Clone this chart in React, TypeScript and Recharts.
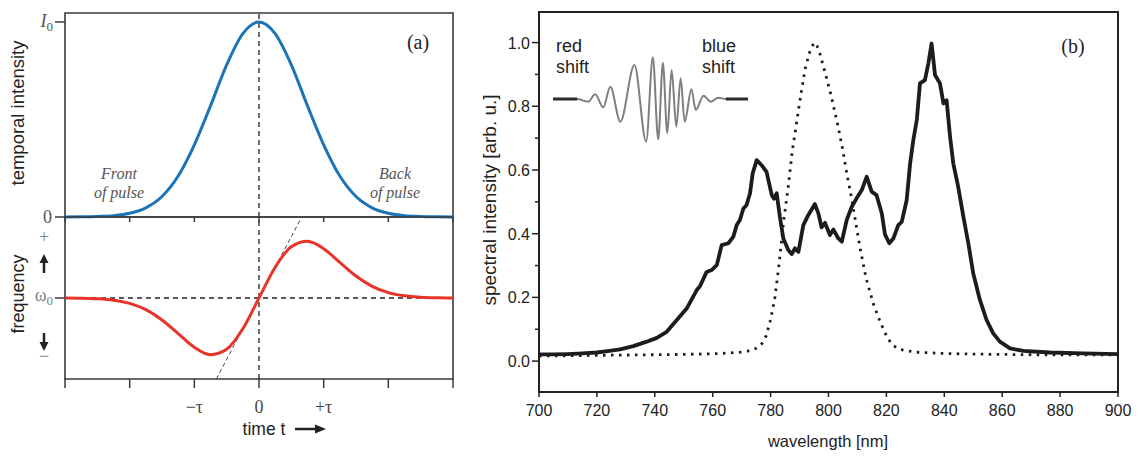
import React from "react";
import {
  LineChart,
  Line,
  XAxis,
  YAxis,
  ReferenceLine,
  ReferenceArea,
} from "recharts";

const SANS = '"Liberation Sans", Arial, Helvetica, sans-serif';
const SERIF = '"Liberation Serif", "Times New Roman", Times, serif';

// panel (a): time in units of tau
const timeSteps = [
  -3, -2.75, -2.5, -2.25, -2, -1.75, -1.5, -1.25, -1, -0.75, -0.5, -0.25, 0,
  0.25, 0.5, 0.75, 1, 1.25, 1.5, 1.75, 2, 2.25, 2.5, 2.75, 3,
];
const intensity = [
  0, 0.001, 0.003, 0.007, 0.019, 0.047, 0.105, 0.21, 0.37, 0.57, 0.78, 0.94, 1,
  0.94, 0.78, 0.57, 0.37, 0.21, 0.105, 0.047, 0.019, 0.007, 0.003, 0.001, 0,
];
const freqShift = [
  0, -0.003, -0.013, -0.038, -0.095, -0.205, -0.385, -0.625, -0.865, -0.995,
  -0.9, -0.54, 0, 0.54, 0.9, 0.995, 0.865, 0.625, 0.385, 0.205, 0.095, 0.038,
  0.013, 0.003, 0,
];
const timeTicks = [-3, -2, -1, 0, 1, 2, 3];
const timeTickLabels: Record<string, string> = { "-1": "−τ", "0": "0", "1": "+τ" };
const tangentSegment = [
  { x: -0.66, y: -1.42 },
  { x: 0.66, y: 1.42 },
];

// panel (b): spectra, [wavelength nm, intensity]
const broadenedSpectrum: [number, number][] = [
  [700, 0.021], [705, 0.021], [710, 0.022], [715, 0.024], [720, 0.027],
  [725, 0.033], [728, 0.037], [732.6, 0.047], [737.2, 0.061], [740.7, 0.073],
  [744.1, 0.092], [747.6, 0.129], [751, 0.165], [754.5, 0.223], [755.6, 0.235],
  [757.9, 0.28], [759.7, 0.286], [761.4, 0.301], [763.1, 0.364], [765.4, 0.37],
  [767.1, 0.39], [768.3, 0.427], [769.4, 0.443], [770.6, 0.479], [771.7, 0.49],
  [772.9, 0.527], [773.8, 0.589], [775.2, 0.631], [776.9, 0.615], [778.6, 0.594],
  [780.4, 0.521], [781.2, 0.51], [782.1, 0.527], [783.2, 0.453], [784.4, 0.385],
  [786.1, 0.349], [787.3, 0.336], [788.4, 0.354], [789.6, 0.343], [791.3, 0.427],
  [793, 0.458], [795.3, 0.493], [796.5, 0.464], [797.6, 0.42], [798.8, 0.434],
  [800.5, 0.396], [801.7, 0.413], [803.4, 0.385], [804.6, 0.375], [806.3, 0.443],
  [808, 0.484], [809.7, 0.511], [811.5, 0.537], [813.2, 0.579], [814.9, 0.532],
  [816.6, 0.521], [818.4, 0.464], [819.5, 0.398], [821, 0.37], [822.4, 0.385],
  [824.1, 0.427], [825.3, 0.437], [827, 0.505], [828.2, 0.621], [829.3, 0.694],
  [830.5, 0.757], [831.6, 0.872], [833.3, 0.882], [834.5, 0.935], [835.6, 0.997],
  [836.8, 0.898], [838.5, 0.872], [839.7, 0.809], [840.8, 0.819], [842, 0.704],
  [843.1, 0.621], [844.8, 0.547], [846.6, 0.453], [848.3, 0.37], [850, 0.275],
  [852.3, 0.192], [854.6, 0.129], [856.9, 0.087], [859.2, 0.061], [862.7, 0.04],
  [867.3, 0.032], [876.5, 0.027], [888, 0.024], [900, 0.022],
];
const inputSpectrum: [number, number][] = [
  [700, 0.016], [710, 0.017], [720, 0.018], [730, 0.019], [740, 0.02],
  [750, 0.021], [760, 0.023], [765, 0.025], [770, 0.028], [773, 0.033],
  [775, 0.04], [777, 0.055], [778.5, 0.08], [780, 0.13], [781.5, 0.2],
  [783, 0.31], [784.5, 0.44], [786, 0.54], [787.5, 0.66], [789, 0.75],
  [790.5, 0.84], [792, 0.92], [793.5, 0.97], [795, 1.0], [796, 0.99],
  [797, 0.966], [799, 0.9], [801, 0.83], [803, 0.75], [805, 0.66],
  [806.5, 0.58], [808, 0.51], [809.5, 0.43], [811, 0.35], [813, 0.26],
  [815.5, 0.18], [818, 0.12], [820.5, 0.07], [822.5, 0.048], [825, 0.036],
  [830, 0.028], [840, 0.024], [850, 0.022], [860, 0.021], [870, 0.02],
  [880, 0.02], [890, 0.02], [900, 0.02],
];
const wavelengthTicks = [
  700, 710, 720, 730, 740, 750, 760, 770, 780, 790, 800, 810, 820, 830, 840,
  850, 860, 870, 880, 890, 900,
];
const spectralTicks = [0, 0.1, 0.2, 0.3, 0.4, 0.5, 0.6, 0.7, 0.8, 0.9, 1.0];

// inset: chirped pulse field (extrema)
const pulseX = [
  0, 24, 35, 42, 50, 57, 67, 81, 92.7, 99.3, 104.7, 109.3, 113.7, 118, 122.7,
  127, 131, 137.7, 142, 149.7, 157, 164.3, 172, 194,
];
const pulseField = [
  0, 0, -2.7, 4.7, -8.3, 12.3, -22.7, 34, -42.7, 41.7, -40.3, 36.3, -34.3, 29,
  -27.7, 20.7, -22.7, 9.7, -11, 3.3, -2.7, 1.3, 0, 0,
];
const pulseEdge = [
  0, 0, null, null, null, null, null, null, null, null, null, null, null, null,
  null, null, null, null, null, null, null, null, 0, 0,
];

const TopTimeTick = ({ x, y }: any) => (
  <line x1={x} x2={x} y1={y} y2={y + 5} stroke="#3a3a3a" strokeWidth={1.5} />
);

const BottomTimeTick = ({ x, y, payload }: any) => {
  const label = timeTickLabels[String(payload.value)];
  return (
    <g>
      <line x1={x} x2={x} y1={y} y2={y + 9} stroke="#3a3a3a" strokeWidth={1.5} />
      {label && (
        <text
          x={x}
          y={y + 34}
          textAnchor="middle"
          fontSize={18}
          fontFamily={SERIF}
          fill="#444"
        >
          {label}
        </text>
      )}
    </g>
  );
};

const IntensityTick = ({ x, y, payload }: any) => (
  <g>
    <line x1={x - 10} x2={x} y1={y} y2={y} stroke="#3a3a3a" strokeWidth={1.5} />
    {payload.value === 0 ? (
      <text x={x - 13} y={y + 6} textAnchor="end" fontSize={18} fontFamily={SERIF} fill="#555">
        0
      </text>
    ) : (
      <text x={x - 12} y={y + 5} textAnchor="end" fontSize={18} fontFamily={SERIF} fill="#555">
        <tspan fontStyle="italic">I</tspan>
        <tspan fontSize={13} dy={4}>0</tspan>
      </text>
    )}
  </g>
);

const FrequencyTick = ({ x, y }: any) => (
  <g>
    <line x1={x - 10} x2={x} y1={y} y2={y} stroke="#3a3a3a" strokeWidth={1.5} />
    <text x={x - 12} y={y + 3} textAnchor="end" fontSize={18} fontFamily={SERIF} fill="#7a8592">
      <tspan>ω</tspan>
      <tspan fontSize={13} dy={4}>0</tspan>
    </text>
  </g>
);

const WavelengthTick = ({ x, y, payload }: any) => {
  const v = payload.value;
  return (
    <g>
      <line x1={x} x2={x} y1={y} y2={y + 5} stroke="#222" strokeWidth={1.5} />
      {v % 20 === 0 && (
        <text x={x} y={y + 24} textAnchor="middle" fontSize={16} fontFamily={SANS} fill="#222">
          {v}
        </text>
      )}
    </g>
  );
};

const SpectralTick = ({ x, y, payload }: any) => {
  const v = payload.value;
  const major = Math.round(v * 10) % 2 === 0;
  return (
    <g>
      <line x1={x - (major ? 7 : 4)} x2={x} y1={y} y2={y} stroke="#222" strokeWidth={1.5} />
      {major && (
        <text x={x - 9} y={y + 6} textAnchor="end" fontSize={16} fontFamily={SANS} fill="#222">
          {v.toFixed(1)}
        </text>
      )}
    </g>
  );
};

const abs = (left: number, top: number, extra: React.CSSProperties = {}): React.CSSProperties => ({
  position: "absolute",
  left,
  top,
  whiteSpace: "nowrap",
  lineHeight: 1,
  ...extra,
});

const centered = "translate(-50%, -50%)";

export default function App() {
  const pulseData = timeSteps.map((t, i) => ({
    t,
    intensity: intensity[i],
    shift: freqShift[i],
  }));
  const broadData = broadenedSpectrum.map(([nm, v]) => ({ nm, v }));
  const inputData = inputSpectrum.map(([nm, v]) => ({ nm, v }));
  const insetData = pulseX.map((x, i) => ({
    x,
    field: pulseField[i],
    edge: pulseEdge[i],
  }));

  return (
    <div
      style={{
        position: "absolute",
        left: 0,
        top: 0,
        width: 1144,
        height: 457,
        background: "#fff",
        overflow: "hidden",
      }}
    >
      {/* (a) top: temporal intensity */}
      <div style={{ position: "absolute", left: 0, top: 0 }}>
        <LineChart
          width={470}
          height={230}
          data={pulseData}
          margin={{ top: 13, right: 17, bottom: 0, left: 0 }}
        >
          <XAxis
            dataKey="t"
            type="number"
            domain={[-3, 3]}
            ticks={timeTicks}
            height={13}
            axisLine={false}
            tickLine={false}
            tickSize={0}
            tickMargin={0}
            tick={(p: any) => <TopTimeTick {...p} />}
          />
          <YAxis
            type="number"
            domain={[0, 1.046]}
            ticks={[0, 1]}
            width={65}
            axisLine={false}
            tickLine={false}
            tickSize={0}
            tickMargin={0}
            tick={(p: any) => <IntensityTick {...p} />}
          />
          <ReferenceArea
            x1={-3}
            x2={3}
            y1={0}
            y2={1.046}
            fill="none"
            stroke="#3a3a3a"
            strokeWidth={1.6}
            ifOverflow="visible"
          />
          <ReferenceLine x={0} stroke="#222" strokeDasharray="5 4" strokeWidth={1.3} />
          <Line
            dataKey="intensity"
            type="monotone"
            stroke="#1b74b6"
            strokeWidth={3}
            dot={false}
            isAnimationActive={false}
          />
        </LineChart>
      </div>

      {/* (a) bottom: instantaneous frequency */}
      <div style={{ position: "absolute", left: 0, top: 205 }}>
        <LineChart
          width={470}
          height={252}
          data={pulseData}
          margin={{ top: 12, right: 17, bottom: 0, left: 0 }}
        >
          <XAxis
            dataKey="t"
            type="number"
            domain={[-3, 3]}
            ticks={timeTicks}
            height={78}
            axisLine={false}
            tickLine={false}
            tickSize={0}
            tickMargin={0}
            tick={(p: any) => <BottomTimeTick {...p} />}
          />
          <YAxis
            type="number"
            domain={[-1.42, 1.42]}
            ticks={[0]}
            width={65}
            axisLine={false}
            tickLine={false}
            tickSize={0}
            tickMargin={0}
            tick={(p: any) => <FrequencyTick {...p} />}
          />
          <ReferenceArea
            x1={-3}
            x2={3}
            y1={-1.42}
            y2={1.42}
            fill="none"
            stroke="#3a3a3a"
            strokeWidth={1.6}
            ifOverflow="visible"
          />
          <ReferenceLine x={0} stroke="#222" strokeDasharray="5 4" strokeWidth={1.3} />
          <ReferenceLine y={0} stroke="#222" strokeDasharray="5 4" strokeWidth={1.3} />
          <ReferenceLine
            segment={tangentSegment}
            stroke="#444"
            strokeDasharray="4 3"
            strokeWidth={1}
            ifOverflow="hidden"
          />
          <Line
            dataKey="shift"
            type="monotone"
            stroke="#e8332a"
            strokeWidth={3}
            dot={false}
            isAnimationActive={false}
          />
        </LineChart>
      </div>

      {/* (b) spectra */}
      <div style={{ position: "absolute", left: 470, top: 0 }}>
        <LineChart
          width={674}
          height={457}
          margin={{ top: 12, right: 26, bottom: 0, left: 0 }}
        >
          <XAxis
            dataKey="nm"
            type="number"
            domain={[700, 900]}
            ticks={wavelengthTicks}
            height={65}
            axisLine={false}
            tickLine={false}
            tickSize={0}
            tickMargin={0}
            tick={(p: any) => <WavelengthTick {...p} />}
          />
          <YAxis
            type="number"
            domain={[-0.097, 1.096]}
            ticks={spectralTicks}
            width={69}
            axisLine={false}
            tickLine={false}
            tickSize={0}
            tickMargin={0}
            tick={(p: any) => <SpectralTick {...p} />}
          />
          <ReferenceArea
            x1={700}
            x2={900}
            y1={-0.097}
            y2={1.096}
            fill="none"
            stroke="#222"
            strokeWidth={2}
            ifOverflow="visible"
          />
          <Line
            data={inputData}
            dataKey="v"
            type="linear"
            stroke="#1c1c1c"
            strokeWidth={2.8}
            strokeDasharray="2.5 5.5"
            dot={false}
            isAnimationActive={false}
          />
          <Line
            data={broadData}
            dataKey="v"
            type="linear"
            stroke="#1c1c1c"
            strokeWidth={3.8}
            strokeLinejoin="round"
            dot={false}
            isAnimationActive={false}
          />
        </LineChart>
      </div>

      {/* inset pulse */}
      <div style={{ position: "absolute", left: 553, top: 49 }}>
        <LineChart
          width={195}
          height={100}
          data={insetData}
          margin={{ top: 0, right: 0, bottom: 0, left: 0 }}
        >
          <XAxis dataKey="x" type="number" domain={[0, 194]} hide />
          <YAxis type="number" domain={[-50, 50]} hide />
          <Line
            dataKey="field"
            type="monotone"
            stroke="#7f7f7f"
            strokeWidth={2}
            dot={false}
            isAnimationActive={false}
          />
          <Line
            dataKey="edge"
            type="linear"
            stroke="#2a2a2a"
            strokeWidth={3}
            dot={false}
            isAnimationActive={false}
          />
        </LineChart>
      </div>

      {/* text and annotations */}
      <div style={abs(18, 113, { transform: `${centered} rotate(-90deg)`, font: `18.5px ${SANS}`, color: "#222" })}>
        temporal intensity
      </div>
      <div style={abs(18, 294, { transform: `${centered} rotate(-90deg)`, font: `18px ${SANS}`, color: "#222" })}>
        frequency
      </div>
      <div style={abs(418, 42, { transform: centered, font: `20px ${SERIF}`, color: "#222" })}>(a)</div>
      <div style={abs(119, 174, { transform: centered, font: `italic 16px ${SERIF}`, color: "#555" })}>Front</div>
      <div style={abs(119, 193, { transform: centered, font: `italic 16px ${SERIF}`, color: "#555" })}>of pulse</div>
      <div style={abs(395, 174, { transform: centered, font: `italic 16px ${SERIF}`, color: "#555" })}>Back</div>
      <div style={abs(395, 193, { transform: centered, font: `italic 16px ${SERIF}`, color: "#555" })}>of pulse</div>
      <div style={abs(44, 237, { transform: centered, font: `18px ${SERIF}`, color: "#7a8592" })}>+</div>
      <div style={abs(44, 356, { transform: centered, font: `18px ${SERIF}`, color: "#7a8592" })}>−</div>
      <div style={abs(264, 429, { transform: centered, font: `17.5px ${SANS}`, color: "#222" })}>time t</div>
      <svg style={{ position: "absolute", left: 0, top: 0, overflow: "visible" }} width={1} height={1}>
        <line x1={44} x2={44} y1={273} y2={260} stroke="#222" strokeWidth={2.5} />
        <polygon points="44,254 39.5,263 48.5,263" fill="#222" />
        <line x1={44} x2={44} y1={333} y2={345} stroke="#222" strokeWidth={2.5} />
        <polygon points="44,351 39.5,342 48.5,342" fill="#222" />
        <line x1={295} x2={316} y1={429} y2={429} stroke="#222" strokeWidth={2.5} />
        <polygon points="326,429 315,424.5 315,433.5" fill="#222" />
      </svg>

      <div style={abs(490, 200, { transform: `${centered} rotate(-90deg)`, font: `19px ${SANS}`, color: "#222" })}>
        spectral intensity [arb. u.]
      </div>
      <div style={abs(828, 441, { transform: centered, font: `16.5px ${SANS}`, color: "#222" })}>
        wavelength [nm]
      </div>
      <div style={abs(1073, 46, { transform: centered, font: `20px ${SERIF}`, color: "#222" })}>(b)</div>
      <div style={abs(556, 36, { font: `18px ${SANS}`, color: "#222", lineHeight: "20px" })}>
        red
        <br />
        shift
      </div>
      <div style={abs(702, 36, { font: `18px ${SANS}`, color: "#222", lineHeight: "20px" })}>
        blue
        <br />
        shift
      </div>
    </div>
  );
}
